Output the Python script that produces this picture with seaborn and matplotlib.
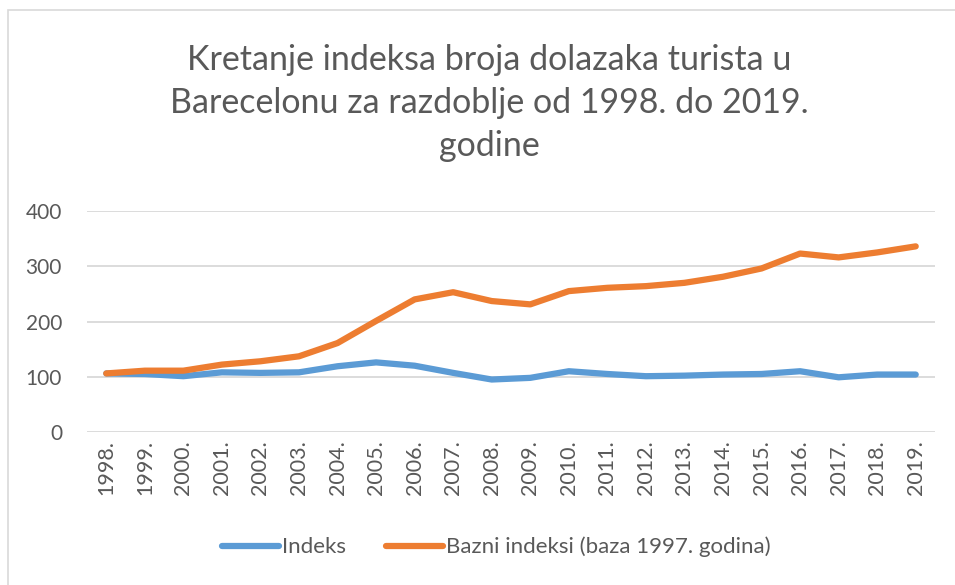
import pandas as pd
import numpy as np
import matplotlib.pyplot as plt
import matplotlib.patches as mpatches
import seaborn as sns

# data
years = ['1998.', '1999.', '2000.', '2001.', '2002.', '2003.', '2004.', '2005.', '2006.', '2007.', '2008.',
         '2009.', '2010.', '2011.', '2012.', '2013.', '2014.', '2015.', '2016.', '2017.', '2018.', '2019.']
indeks = [106, 105, 101, 108, 107, 108, 119, 126, 120, 107, 95,
          98, 110, 105, 101, 102, 104, 105, 110, 99, 104, 104]
bazni = [106, 111, 111, 122, 128, 137, 161, 201, 240, 253, 237,
         231, 255, 261, 264, 270, 281, 296, 323, 316, 325, 336]

df = pd.DataFrame({'Godina': years * 2,
                   'Vrijednost': indeks + bazni,
                   'Serija': ['Indeks'] * len(years) + ['Bazni indeksi (baza 1997. godina)'] * len(years)})

sns.set_style("white")
plt.rcParams['font.family'] = ['Lato', 'DejaVu Sans']
text_col = '#595959'

fig = plt.figure(figsize=(9.55, 5.85), dpi=100)
ax = fig.add_axes([87 / 955, 1 - 432 / 585, (935 - 87) / 955, (432 - 211) / 585])

sns.lineplot(data=df, x='Godina', y='Vrijednost', hue='Serija', sort=False, ax=ax,
             palette=['#5B9BD5', '#ED7D31'], linewidth=4.5, legend=False)

ax.set_ylim(0, 400)
ax.set_xlim(-0.5, len(years) - 0.5)
ax.set_yticks([0, 100, 200, 300, 400])
ax.yaxis.grid(True, color='#D9D9D9', linewidth=1.3)
ax.set_axisbelow(True)
for s in ax.spines.values():
    s.set_visible(False)
ax.set_xlabel('')
ax.set_ylabel('')
ax.tick_params(axis='y', labelsize=15, colors=text_col, length=0, pad=18)
ax.tick_params(axis='x', labelsize=15.5, colors=text_col, length=0, pad=6)
plt.setp(ax.get_xticklabels(), rotation=90)

# title
fig.text(489 / 955, 1 - 44 / 585,
         'Kretanje indeksa broja dolazaka turista u\nBarecelonu za razdoblje od 1998. do 2019.\ngodine',
         ha='center', va='top', fontsize=24.5, color=text_col, linespacing=1.42)

# legend
handles = [plt.Line2D([], [], color='#5B9BD5', linewidth=4.5),
           plt.Line2D([], [], color='#ED7D31', linewidth=4.5)]
fig.legend(handles, ['Indeks', 'Bazni indeksi (baza 1997. godina)'], loc='center',
           bbox_to_anchor=(496 / 955, 1 - 547 / 585), ncol=2, frameon=False, fontsize=16,
           labelcolor=text_col, handlelength=2.6, handletextpad=0.1, columnspacing=1.8)

# chart border
fig.patches.append(mpatches.Rectangle((8 / 955, -0.1), 1.1, 1 - 10 / 585 + 0.1, transform=fig.transFigure,
                                      fill=False, edgecolor='#D9D9D9', linewidth=1.2))

fig.savefig('out.png', dpi=100)
